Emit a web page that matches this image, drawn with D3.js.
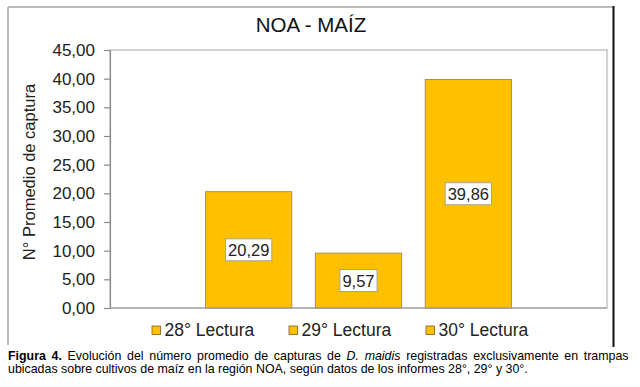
<!DOCTYPE html>
<html>
<head>
<meta charset="utf-8">
<script src="https://cdn.jsdelivr.net/npm/d3@7"></script>
<style>
  html, body { margin: 0; padding: 0; background: #fff; }
  svg { display: block; font-family: "Liberation Sans", Arial, sans-serif; }
</style>
</head>
<body>
<svg id="chart" width="640" height="387"></svg>
<script>
// ---- data ----
const chartTitle = "NOA - MAÍZ";
const yAxisTitle = "N° Promedio de captura";
const seriesNames = ["28° Lectura", "29° Lectura", "30° Lectura"];
const seriesValues = [20.29, 9.57, 39.86];
const yTickValues = [0, 5, 10, 15, 20, 25, 30, 35, 40, 45];
const captionLine1 = [
  {t: "Figura", s: "b"}, {t: "4.", s: "b"}, {t: "Evolución"}, {t: "del"}, {t: "número"},
  {t: "promedio"}, {t: "de"}, {t: "capturas"}, {t: "de"}, {t: "D.", s: "i"}, {t: "maidis", s: "i"},
  {t: "registradas"}, {t: "exclusivamente"}, {t: "en"}, {t: "trampas"}
];
const captionLine2 = "ubicadas sobre cultivos de maíz en la región NOA, según datos de los informes 28°, 29° y 30°.";

// ---- layout ----
const svg = d3.select("#chart");
const plot = {left: 110, right: 607, top: 50, bottom: 308};
const fmt = d3.formatLocale({decimal: ",", thousands: ".", grouping: [3], currency: ["", ""]}).format(".2f");
const barFill = "#FFC000";

svg.append("rect").attr("width", 640).attr("height", 387).attr("fill", "#fff");

// outer frame
svg.append("line").attr("x1", 8).attr("x2", 613).attr("y1", 7).attr("y2", 7)
  .attr("stroke", "#a6a6a6").attr("stroke-width", 1.5);
svg.append("line").attr("x1", 8).attr("x2", 8).attr("y1", 7).attr("y2", 345)
  .attr("stroke", "#a6a6a6").attr("stroke-width", 1.5);
svg.append("line").attr("x1", 613.5).attr("x2", 613.5).attr("y1", 6).attr("y2", 347)
  .attr("stroke", "#111").attr("stroke-width", 2);

// title
svg.append("text").attr("x", 311).attr("y", 31.5).attr("text-anchor", "middle")
  .attr("font-size", 20.5).attr("fill", "#111").text(chartTitle);

// scales
const y = d3.scaleLinear().domain([0, 45]).range([plot.bottom, plot.top]);
const x = d3.scaleBand().domain(seriesNames).range([plot.left, plot.right])
  .paddingInner(0.215).paddingOuter(0.87);

// plot area border
svg.append("rect").attr("x", plot.left).attr("y", plot.top)
  .attr("width", plot.right - plot.left).attr("height", plot.bottom - plot.top)
  .attr("fill", "none").attr("stroke", "#c4c4c4").attr("stroke-width", 1.5);

// bars
svg.append("g").selectAll("rect").data(seriesValues).join("rect")
  .attr("x", (d, i) => x(seriesNames[i]))
  .attr("y", d => y(d))
  .attr("width", x.bandwidth())
  .attr("height", d => y(0) - y(d))
  .attr("fill", barFill)
  .attr("stroke", "#a89060").attr("stroke-width", 1);

// x axis line
svg.append("line").attr("x1", plot.left).attr("x2", plot.right)
  .attr("y1", plot.bottom).attr("y2", plot.bottom)
  .attr("stroke", "#9a9a9a").attr("stroke-width", 1.2);

// y axis
const yAxis = d3.axisLeft(y).tickValues(yTickValues).tickFormat(d => fmt(d))
  .tickSizeInner(6).tickSizeOuter(0).tickPadding(9);
const gy = svg.append("g").attr("transform", `translate(${plot.left},0)`).call(yAxis);
gy.select(".domain").attr("stroke", "#8a8a8a").attr("stroke-width", 1.2);
gy.selectAll(".tick line").attr("stroke", "#8a8a8a").attr("stroke-width", 1.2);
gy.selectAll(".tick text").attr("font-size", 17).attr("fill", "#222")
  .attr("font-family", "'Liberation Sans', Arial, sans-serif");

// y axis title
svg.append("text").attr("transform", "translate(35,172) rotate(-90)")
  .attr("text-anchor", "middle").attr("font-size", 16.5).attr("fill", "#222")
  .text(yAxisTitle);

// value labels
const lbl = svg.append("g").selectAll("g").data(seriesValues).join("g")
  .attr("transform", (d, i) => `translate(${x(seriesNames[i]) + x.bandwidth() / 2},${(y(d) + y(0)) / 2})`);
lbl.append("rect").attr("fill", "#fff").attr("stroke", "#a0a0a0").attr("stroke-width", 1);
lbl.append("text").attr("text-anchor", "middle").attr("dy", "0.36em")
  .attr("font-size", 16.5).attr("fill", "#222").text(d => fmt(d));
lbl.each(function() {
  const g = d3.select(this);
  const w = g.select("text").node().getComputedTextLength();
  g.select("rect").attr("x", -w / 2 - 2.5).attr("y", -11).attr("width", w + 5).attr("height", 22);
});

// legend
const legStart = 152, legStep = 137, legY = 326;
const leg = svg.append("g").selectAll("g").data(seriesNames).join("g")
  .attr("transform", (d, i) => `translate(${legStart + i * legStep},${legY})`);
leg.append("rect").attr("width", 8.5).attr("height", 8.5).attr("fill", barFill)
  .attr("stroke", "#806020").attr("stroke-width", 0.8);
leg.append("text").attr("x", 12.5).attr("y", 10).attr("font-size", 17.5).attr("fill", "#222")
  .text(d => d);

// caption line 1 (justified)
const capX0 = 8, capX1 = 628.5, cap1Y = 359.5, cap2Y = 372.5, capSize = 12.4;
const words = svg.append("g").selectAll("text").data(captionLine1).join("text")
  .attr("y", cap1Y).attr("font-size", capSize).attr("fill", "#000")
  .attr("font-weight", d => d.s === "b" ? "bold" : "normal")
  .attr("font-style", d => d.s === "i" ? "italic" : "normal")
  .text(d => d.t);
const widths = words.nodes().map(n => n.getComputedTextLength());
const total = d3.sum(widths);
const gap = (capX1 - capX0 - total) / (widths.length - 1);
let cx = capX0;
words.each(function(d, i) { d3.select(this).attr("x", cx); cx += widths[i] + gap; });

// caption line 2
svg.append("text").attr("x", capX0).attr("y", cap2Y).attr("font-size", capSize).attr("fill", "#000")
  .text(captionLine2);
</script>
</body>
</html>
